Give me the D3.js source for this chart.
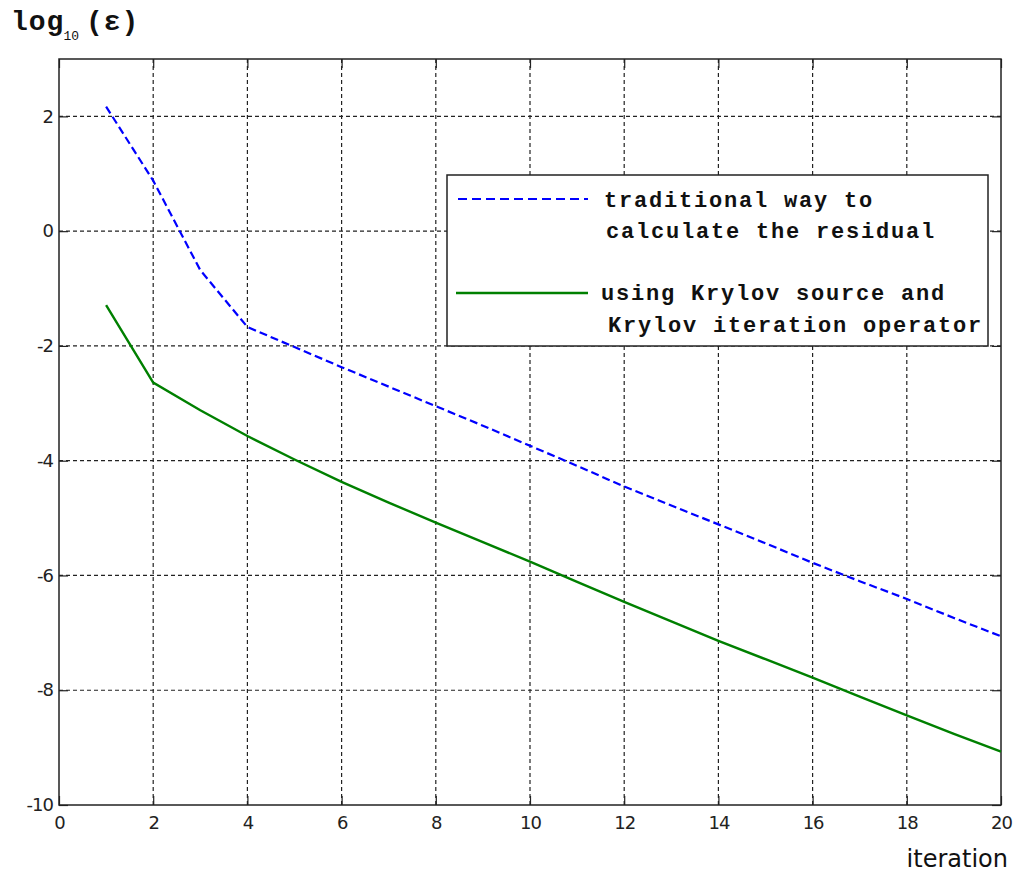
<!DOCTYPE html>
<html><head><meta charset="utf-8">
<script src="https://cdn.jsdelivr.net/npm/d3@7"></script>
<style>body{margin:0;background:#fff}svg{display:block}</style>
</head><body>
<script>
const iterations = [1,2,3,4,5,6,7,8,9,10,11,12,13,14,15,16,17,18,19,20];
const traditional = [2.17,0.88,-0.68,-1.67,-2.02,-2.37,-2.71,-3.05,-3.39,-3.74,-4.09,-4.45,-4.78,-5.11,-5.44,-5.78,-6.10,-6.41,-6.74,-7.06];
const krylov = [-1.29,-2.64,-3.12,-3.57,-3.98,-4.37,-4.73,-5.08,-5.42,-5.76,-6.11,-6.46,-6.80,-7.14,-7.46,-7.78,-8.11,-8.44,-8.76,-9.07];
const xTicks = [0,2,4,6,8,10,12,14,16,18,20];
const yTicks = [-10,-8,-6,-4,-2,0,2];
const legendLabels = [["traditional way to","calculate the residual"],["using Krylov source and","Krylov iteration operator"]];

const W=1015,H=876;
const m={l:59,r:1001,t:59,b:805};
const svg=d3.select("body").append("svg").attr("width",W).attr("height",H);
const x=d3.scaleLinear().domain([0,20]).range([m.l,m.r]);
const y=d3.scaleLinear().domain([-10,3]).range([m.b,m.t]);
const gc="#222";

// grid
const g=svg.append("g");
g.selectAll(".vg").data(xTicks.slice(1,-1)).join("line")
 .attr("x1",d=>x(d)).attr("x2",d=>x(d)).attr("y1",m.t).attr("y2",m.b)
 .attr("stroke",gc).attr("stroke-width",1.2).attr("stroke-dasharray","4,3");
g.selectAll(".hg").data(yTicks.slice(1)).join("line")
 .attr("y1",d=>y(d)).attr("y2",d=>y(d)).attr("x1",m.l).attr("x2",m.r)
 .attr("stroke",gc).attr("stroke-width",1.2).attr("stroke-dasharray","4,3");

// axes
const fontTick="'DejaVu Sans', Arial, sans-serif";
const fmt=d=>String(d);
const ax=svg.append("g").attr("transform",`translate(0,${m.b})`).call(d3.axisBottom(x).tickValues(xTicks).tickSize(-9).tickPadding(10).tickFormat(fmt));
const ay=svg.append("g").attr("transform",`translate(${m.l},0)`).call(d3.axisLeft(y).tickValues(yTicks).tickSize(-9).tickPadding(6).tickFormat(fmt));
const axt=svg.append("g").attr("transform",`translate(0,${m.t})`).call(d3.axisTop(x).tickValues(xTicks).tickSize(-9).tickFormat(""));
const ayr=svg.append("g").attr("transform",`translate(${m.r},0)`).call(d3.axisRight(y).tickValues(yTicks).tickSize(-9).tickFormat(""));
[ax,ay,axt,ayr].forEach(a=>{
  a.select(".domain").remove();
  a.selectAll("line").attr("stroke",gc).attr("stroke-width",1.2);
  a.selectAll("text").attr("fill","#222").style("font-family",fontTick).style("font-size","18px").style("letter-spacing","-1px");
});
ax.selectAll("text").attr("dy","0.75em");
svg.append("rect").attr("x",m.l).attr("y",m.t).attr("width",m.r-m.l).attr("height",m.b-m.t)
 .attr("fill","none").attr("stroke",gc).attr("stroke-width",1.5);

// lines
const line=d3.line().x((d,i)=>x(iterations[i])).y(d=>y(d));
svg.append("path").datum(traditional).attr("d",line).attr("fill","none")
 .attr("stroke","#0000ff").attr("stroke-width",2.2).attr("stroke-dasharray","8,4");
svg.append("path").datum(krylov).attr("d",line).attr("fill","none")
 .attr("stroke","#008000").attr("stroke-width",2.4);

// legend
const lg=svg.append("g");
lg.append("rect").attr("x",447).attr("y",175).attr("width",541).attr("height",171)
 .attr("fill","#fff").attr("stroke",gc).attr("stroke-width",1.5);
const mono="'Liberation Mono','Courier New',monospace";
lg.append("line").attr("x1",458).attr("x2",588).attr("y1",199).attr("y2",199)
 .attr("stroke","#0000ff").attr("stroke-width",2.2).attr("stroke-dasharray","9,5");
lg.append("line").attr("x1",456).attr("x2",588).attr("y1",293).attr("y2",293)
 .attr("stroke","#008000").attr("stroke-width",2.4);
const lt=[[604,207,legendLabels[0][0]],[606,238,legendLabels[0][1]],[601,300,legendLabels[1][0]],[608,332,legendLabels[1][1]]];
lg.selectAll("text").data(lt).join("text").attr("x",d=>d[0]).attr("y",d=>d[1]).text(d=>d[2])
 .style("font-family",mono).style("font-weight","bold").style("font-size","22px").style("letter-spacing","1.8px").attr("fill","#111");

// titles
const t=svg.append("text").attr("x",11).attr("y",30).style("font-family",mono).style("font-weight","bold").attr("fill","#111");
t.append("tspan").text("log").style("font-size","28px").style("letter-spacing","1px");
t.append("tspan").text("10").attr("dy",10).attr("dx",-1).style("font-size","13px").style("font-weight","normal");
t.append("tspan").text("(ε)").attr("x",86).attr("dy",-10).style("font-size","28px").style("letter-spacing","1px");
svg.append("text").attr("x",1008).attr("y",867).attr("text-anchor","end").text("iteration")
 .style("font-family","'DejaVu Sans', sans-serif").style("font-size","24px").attr("fill","#111");
</script>
</body></html>
